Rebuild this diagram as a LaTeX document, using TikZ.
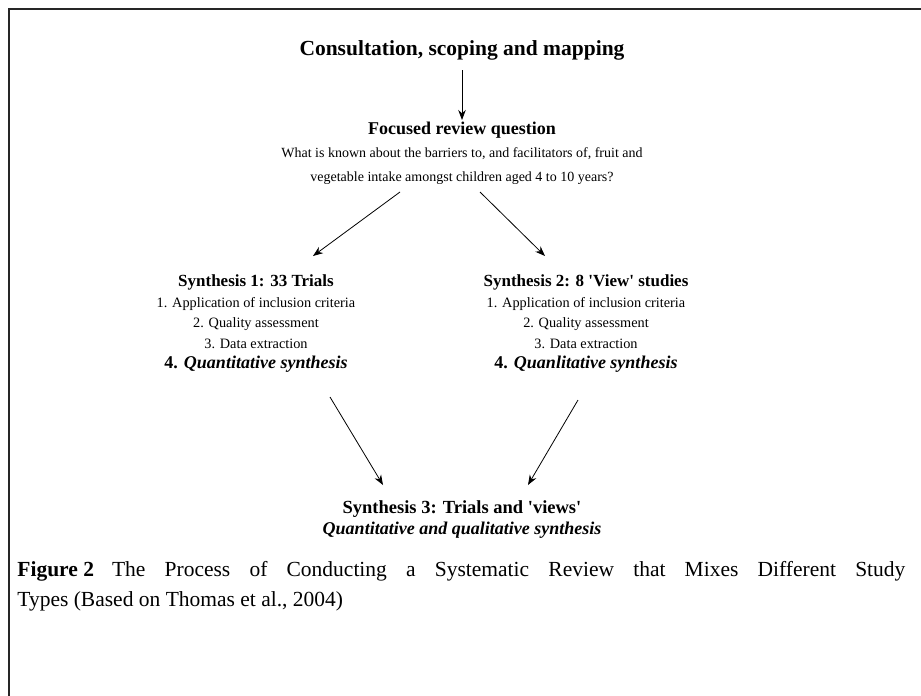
\documentclass[tikz,border=0pt]{standalone}
\usepackage{fontspec}
\setmainfont{Liberation Serif}[Ligatures=TeXOff]
\usetikzlibrary{arrows.meta}
\begin{document}
\begin{tikzpicture}[x=1pt, y=-1pt, >={Stealth[length=10pt,width=7.5pt]}, line width=0.8pt]
  \tikzset{
    txt/.style={align=center, inner sep=0pt, font=\fontsize{14.3}{20.5}\selectfont},
    hd/.style={font=\fontsize{18.5}{21}\selectfont\bfseries},
  }
  \useasboundingbox (0,0) rectangle (921,696);
  % frame, cut off at the right and at the bottom
  \draw[line width=2.2pt, black!85] (9,700) -- (9,9) -- (925,9);

  \node[txt, font=\fontsize{21.5}{22}\selectfont\bfseries] (scope) at (462,50) {Consultation, scoping and mapping};
  \node[txt, font=\fontsize{14}{23.5}\selectfont] (focus) at (462,153) {{\bfseries\fontsize{18}{21}\selectfont Focused review question}\\What is known about the barriers to, and facilitators of, fruit and\\vegetable intake amongst children aged 4 to 10 years?};

  \node[txt] (syn1) at (256,324) {{\bfseries\fontsize{17}{21}\selectfont Synthesis 1: 33 Trials}\\1. Application of inclusion criteria\\2. Quality assessment\\3. Data extraction\\{\bfseries\fontsize{18}{21}\selectfont 4. \itshape Quantitative synthesis}};
  \node[txt] (syn2) at (586,324) {{\bfseries\fontsize{17}{21}\selectfont Synthesis 2: 8 'View' studies}\\1. Application of inclusion criteria\\2. Quality assessment\\3. Data extraction\\{\bfseries\fontsize{18}{21}\selectfont 4. \itshape Quanlitative synthesis}};

  \node[txt, hd] (syn3) at (462,520) {Synthesis 3: Trials and 'views'\\{\fontsize{18}{21}\selectfont\itshape Quantitative and qualitative synthesis}};

  \draw[->] ([yshift=-20pt]scope.center) -- ([yshift=33pt]focus.center);
  \draw[->] ([xshift=-62pt, yshift=-39pt]focus.center) -- ([xshift=57pt, yshift=68pt]syn1.center);
  \draw[->] ([xshift=18pt, yshift=-39pt]focus.center) -- ([xshift=-41pt, yshift=68pt]syn2.center);
  \draw[->] ([xshift=74pt, yshift=-73pt]syn1.center) -- ([xshift=-79pt, yshift=35pt]syn3.center);
  \draw[->] ([xshift=-8pt, yshift=-76pt]syn2.center) -- ([xshift=66pt, yshift=35pt]syn3.center);

  \node[anchor=north west, inner sep=0pt, align=left, font=\fontsize{21.5}{30}\selectfont] (caption) at (17,561)
    {\makebox[888pt][s]{\mbox{\textbf{Figure 2}}\hspace{18pt}The Process of Conducting a Systematic Review that Mixes Different Study}\\Types (Based on Thomas et al., 2004)};
\end{tikzpicture}
\end{document}
